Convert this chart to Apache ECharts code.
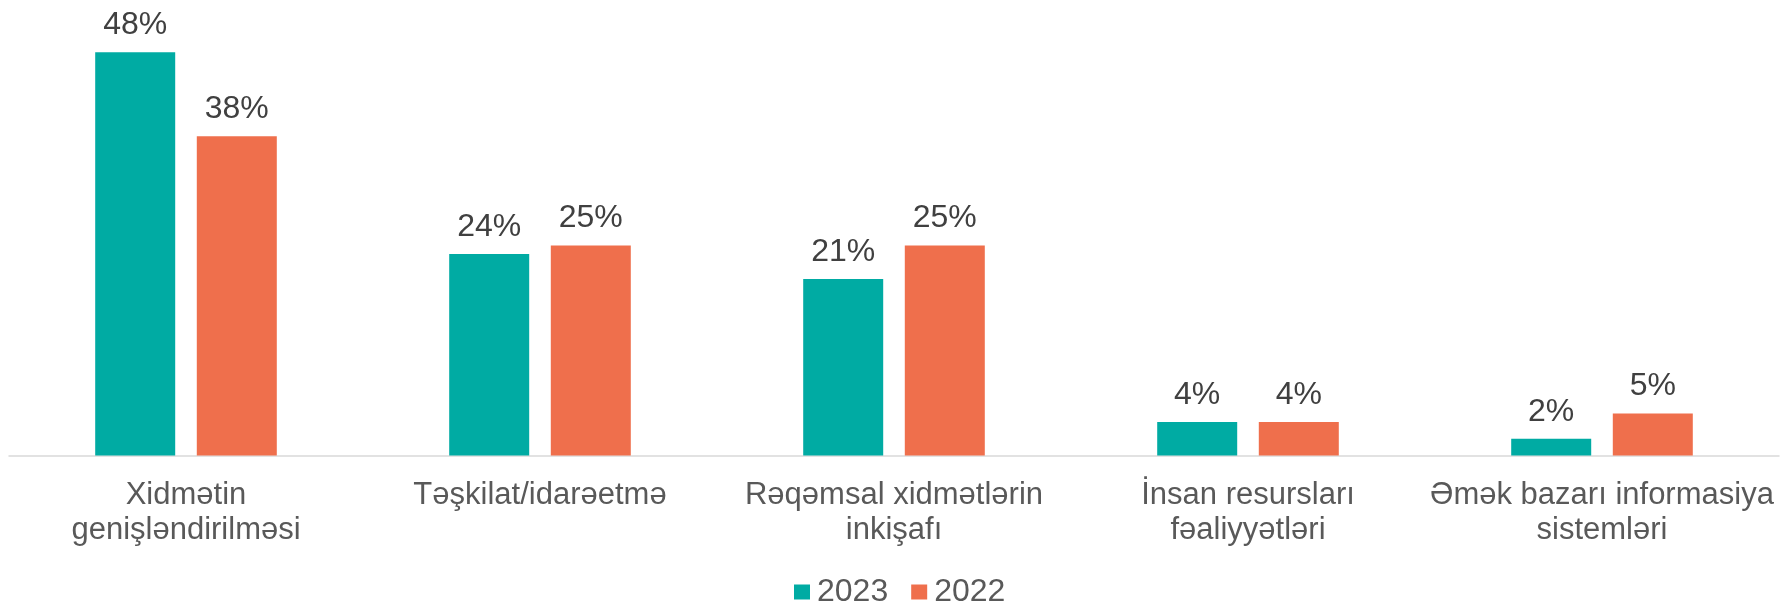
<!DOCTYPE html>
<html>
<head>
<meta charset="utf-8">
<script src="https://cdn.jsdelivr.net/npm/echarts@6/dist/echarts.min.js"></script>
<style>
    html, body { margin: 0; padding: 0; background: #fff; }
    #chart { width: 1783px; height: 603px; }
</style>
</head>
<body>
<div id="chart"></div>
<script>
// categories (line breaks as in the original)
var categories = [
    'Xidmətin\ngenişləndirilməsi',
    'Təşkilat/idarəetmə',
    'Rəqəmsal xidmətlərin\ninkişafı',
    'İnsan resursları\nfəaliyyətləri',
    'Əmək bazarı informasiya\nsistemləri'
];
var seriesNames = ['2023', '2022'];
var values2023 = [48, 24, 21, 4, 2];
var values2022 = [38, 25, 25, 4, 5];
var colors = ['#00ABA3', '#EF6F4C'];

var font = '"Liberation Sans", Arial, sans-serif';

var chart = echarts.init(document.getElementById('chart'));

function barSeries(name, data, color) {
    return {
        name: name,
        type: 'bar',
        data: data,
        barWidth: 80,
        barGap: '27%',
        itemStyle: { color: color },
        label: {
            show: true,
            position: 'top',
            distance: 11,
            formatter: '{c}%',
            color: '#404040',
            fontSize: 32,
            fontFamily: font
        }
    };
}

var option = {
    animation: false,
    textStyle: { fontFamily: font },
    grid: {
        left: 9,
        right: 4,
        top: 35.5,
        bottom: 147.5,
        containLabel: false
    },
    legend: {
        data: seriesNames,
        top: 576,
        left: 794,
        padding: 0,
        itemWidth: 16,
        itemHeight: 15,
        itemGap: 23,
        icon: 'rect',
        textStyle: {
            color: '#595959',
            fontSize: 32,
            padding: [0, 0, 0, 2]
        }
    },
    xAxis: {
        type: 'category',
        data: categories,
        axisTick: { show: false },
        axisLine: { lineStyle: { color: '#D9D9D9', width: 1.5 } },
        axisLabel: {
            interval: 0,
            margin: 22,
            color: '#595959',
            fontSize: 31,
            lineHeight: 35,
            fontFamily: font
        }
    },
    yAxis: {
        type: 'value',
        min: 0,
        max: 50,
        show: false,
        splitLine: { show: false }
    },
    series: [
        barSeries(seriesNames[0], values2023, colors[0]),
        barSeries(seriesNames[1], values2022, colors[1])
    ]
};

option && chart.setOption(option);
</script>
</body>
</html>
